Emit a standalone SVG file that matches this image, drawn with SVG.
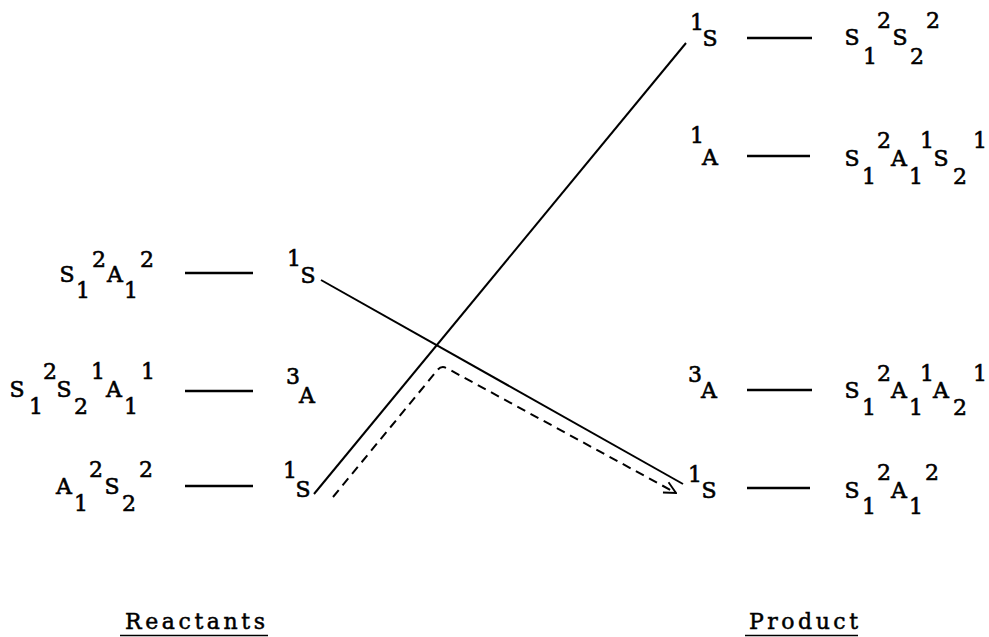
<svg xmlns="http://www.w3.org/2000/svg" width="989" height="637" viewBox="0 0 989 637">
<style>
.t{font-family:"DejaVu Serif","Liberation Serif",serif;font-size:22px;fill:#000;stroke:#000;stroke-width:0.6;text-anchor:middle}
.b{font-family:"DejaVu Serif","Liberation Serif",serif;font-size:22px;fill:#000;stroke:#000;stroke-width:0.5}
.d{stroke:#000;stroke-width:2.4;fill:none}
.c{stroke:#000;stroke-width:2;fill:none}
.dash{stroke:#000;stroke-width:2;fill:none;stroke-dasharray:9 6}
</style>
<defs>
<marker id="arr" viewBox="0 0 12 12" refX="11" refY="6" markerWidth="14" markerHeight="14" markerUnits="userSpaceOnUse" orient="auto">
<path d="M1,1 L11,6 L1,11" fill="none" stroke="#000" stroke-width="1.6"/>
</marker>
</defs>
<rect width="989" height="637" fill="#fff"/>

<g id="connectors">
<line class="c" x1="321" y1="280" x2="683" y2="484"/>
<line class="c" x1="314" y1="494" x2="686" y2="43"/>
<path class="dash" d="M333,497 L437.5,370 Q441.4,365.2 447,368.3 L676,493" marker-end="url(#arr)"/>
</g>

<g id="react-1">
<text class="t"><tspan x="67" y="282">S</tspan><tspan x="83" y="298">1</tspan><tspan x="99" y="267">2</tspan><tspan x="115" y="282">A</tspan><tspan x="131" y="298">1</tspan><tspan x="147" y="267">2</tspan></text>
<line class="d" x1="185" y1="273" x2="253" y2="273"/>
<text class="t"><tspan x="294" y="266">1</tspan><tspan x="308" y="283">S</tspan></text>
</g>

<g id="react-2">
<text class="t"><tspan x="17" y="397">S</tspan><tspan x="36" y="414">1</tspan><tspan x="50" y="379">2</tspan><tspan x="64" y="397">S</tspan><tspan x="81" y="414">2</tspan><tspan x="98" y="379">1</tspan><tspan x="114" y="397">A</tspan><tspan x="131" y="414">1</tspan><tspan x="148" y="379">1</tspan></text>
<line class="d" x1="185" y1="391" x2="253" y2="391"/>
<text class="t"><tspan x="293" y="384">3</tspan><tspan x="307" y="403">A</tspan></text>
</g>

<g id="react-3">
<text class="t"><tspan x="64" y="494">A</tspan><tspan x="81" y="511">1</tspan><tspan x="96" y="477">2</tspan><tspan x="112" y="494">S</tspan><tspan x="129" y="511">2</tspan><tspan x="146" y="477">2</tspan></text>
<line class="d" x1="185" y1="486" x2="253" y2="486"/>
<text class="t"><tspan x="290" y="478">1</tspan><tspan x="303" y="497">S</tspan></text>
</g>

<g id="prod-1">
<text class="t"><tspan x="697" y="30">1</tspan><tspan x="710" y="46">S</tspan></text>
<line class="d" x1="747" y1="38" x2="812" y2="38"/>
<text class="t"><tspan x="852" y="45">S</tspan><tspan x="870" y="64">1</tspan><tspan x="884" y="28">2</tspan><tspan x="900" y="45">S</tspan><tspan x="917" y="64">2</tspan><tspan x="933" y="28">2</tspan></text>
</g>

<g id="prod-2">
<text class="t"><tspan x="697" y="143">1</tspan><tspan x="710" y="165">A</tspan></text>
<line class="d" x1="747" y1="156" x2="810" y2="156"/>
<text class="t"><tspan x="852" y="166">S</tspan><tspan x="869" y="184">1</tspan><tspan x="884" y="148">2</tspan><tspan x="899" y="166">A</tspan><tspan x="916" y="184">1</tspan><tspan x="927" y="148">1</tspan><tspan x="941" y="166">S</tspan><tspan x="960" y="184">2</tspan><tspan x="980" y="148">1</tspan></text>
</g>

<g id="prod-3">
<text class="t"><tspan x="695" y="382">3</tspan><tspan x="709" y="398">A</tspan></text>
<line class="d" x1="747" y1="390" x2="812" y2="390"/>
<text class="t"><tspan x="852" y="398">S</tspan><tspan x="869" y="415">1</tspan><tspan x="884" y="381">2</tspan><tspan x="899" y="398">A</tspan><tspan x="916" y="415">1</tspan><tspan x="927" y="381">1</tspan><tspan x="941" y="398">A</tspan><tspan x="960" y="415">2</tspan><tspan x="980" y="381">1</tspan></text>
</g>

<g id="prod-4">
<text class="t"><tspan x="695" y="482">1</tspan><tspan x="709" y="498">S</tspan></text>
<line class="d" x1="747" y1="488" x2="810" y2="488"/>
<text class="t"><tspan x="852" y="498">S</tspan><tspan x="869" y="514">1</tspan><tspan x="884" y="480">2</tspan><tspan x="899" y="498">A</tspan><tspan x="916" y="514">1</tspan><tspan x="932" y="480">2</tspan></text>
</g>

<g id="reactants-label">
<text class="b" x="125" y="629" textLength="140" lengthAdjust="spacing">Reactants</text>
<line x1="120" y1="635.5" x2="268" y2="635.5" stroke="#000" stroke-width="1.5"/>
</g>
<g id="product-label">
<text class="b" x="749" y="629" textLength="109" lengthAdjust="spacing">Product</text>
<line x1="745" y1="635.5" x2="858" y2="635.5" stroke="#000" stroke-width="1.5"/>
</g>
</svg>
